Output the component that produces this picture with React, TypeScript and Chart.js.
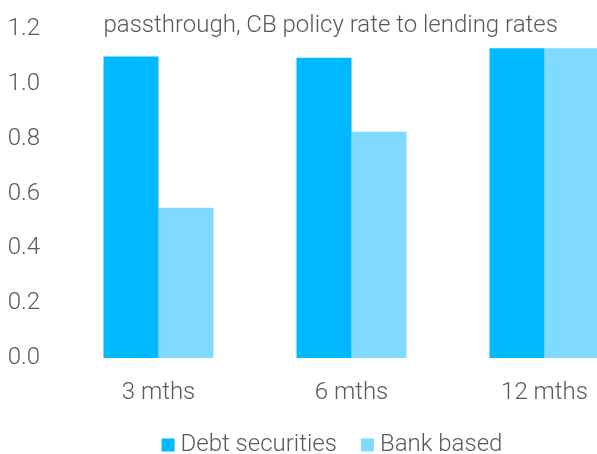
import React, { useEffect, useRef } from 'react';
import { Chart, registerables } from 'chart.js';

Chart.register(...registerables);

const categories = ['3 mths', '6 mths', '12 mths'];
const debtSecurities = [1.1, 1.095, 1.13];
const bankBased = [0.548, 0.825, 1.13];
const yTickValues = [0, 0.2, 0.4, 0.6, 0.8, 1.0, 1.2];
const chartTitle = 'passthrough, CB policy rate to lending rates';

const FONT_FAMILY = 'Roboto';
const FONT_SIZE = 24;
const TEXT_COLOR = '#595959';
const DEBT_COLOR = '#00B9FF';
const BANK_COLOR = '#80DAFF';

const insideTitle = {
  id: 'insideTitle',
  afterDraw(chart: any) {
    const meta = chart.getDatasetMeta(0);
    const bar = meta.data[0];
    if (!bar) return;
    const props = bar.getProps(['x', 'width'], true);
    const ctx = chart.ctx;
    ctx.save();
    ctx.font = `300 ${FONT_SIZE}px ${FONT_FAMILY}`;
    ctx.fillStyle = TEXT_COLOR;
    ctx.textAlign = 'left';
    ctx.textBaseline = 'middle';
    ctx.fillText(chartTitle, props.x - props.width / 2, chart.chartArea.top - 3);
    ctx.restore();
  },
};

const legendTweak = {
  id: 'legendTweak',
  afterInit(chart: any) {
    const legend = chart.legend;
    if (!legend) return;
    const orig = legend.fit.bind(legend);
    legend.fit = function () {
      orig();
      this.height = 51;
    };
  },
  afterLayout(chart: any) {
    const legend = chart.legend;
    if (!legend) return;
    legend.left += 5.5;
    legend.right += 5.5;
  },
};

export default function App() {
  const canvasRef = useRef<HTMLCanvasElement | null>(null);

  useEffect(() => {
    if (!canvasRef.current) return;
    const font = { family: FONT_FAMILY, size: FONT_SIZE, weight: '300' as any };
    const chart = new Chart(canvasRef.current, {
      type: 'bar',
      data: {
        datasets: [
          {
            label: 'Debt securities',
            data: debtSecurities.map((v, i) => ({ x: i, y: v })),
            backgroundColor: DEBT_COLOR,
            borderWidth: 0,
          },
          {
            label: 'Bank based',
            data: bankBased.map((v, i) => ({ x: i, y: v })),
            backgroundColor: BANK_COLOR,
            borderWidth: 0,
          },
        ],
      },
      plugins: [insideTitle, legendTweak],
      options: {
        responsive: false,
        animation: false,
        maintainAspectRatio: false,
        layout: { padding: { top: 29, left: 0, right: 0, bottom: 0 } },
        datasets: {
          bar: { categoryPercentage: 0.57, barPercentage: 1.0 },
        },
        scales: {
          x: {
            type: 'linear',
            offset: false,
            min: -0.5,
            max: 2.272,
            grid: { display: false, drawTicks: false, offset: false },
            border: { display: false },
            afterBuildTicks: (scale: any) => {
              scale.ticks = categories.map((_, i) => ({ value: i }));
            },
            afterFit: (scale: any) => {
              scale.height = 45;
              scale.paddingLeft = 0;
              scale.paddingRight = 0;
            },
            ticks: {
              font,
              color: TEXT_COLOR,
              padding: 21,
              maxRotation: 0,
              autoSkip: false,
              callback: (v: any) => categories[v] ?? '',
            },
          },
          y: {
            min: 0,
            max: 1.2,
            grid: { display: false, drawTicks: false },
            border: { display: false },
            afterBuildTicks: (scale: any) => {
              scale.ticks = yTickValues.map((v) => ({ value: v }));
            },
            afterFit: (scale: any) => {
              scale.width = 62;
              scale.paddingTop = 0;
              scale.paddingBottom = 0;
            },
            ticks: {
              font,
              color: TEXT_COLOR,
              padding: 22,
              callback: (v: any) => Number(v).toFixed(1),
            },
          },
        },
        plugins: {
          title: { display: false },
          tooltip: { enabled: false },
          legend: {
            display: true,
            position: 'bottom',
            fullSize: false,
            labels: {
              font,
              color: TEXT_COLOR,
              usePointStyle: true,
              pointStyle: 'rect',
              boxWidth: 1,
              boxHeight: 13,
              padding: 30,
            },
          },
        },
      },
    });
    return () => chart.destroy();
  }, []);

  return (
    <div style={{ position: 'fixed', left: 0, top: 0, width: 597, height: 454, background: '#fff' }}>
      <canvas ref={canvasRef} width={597} height={454} style={{ width: 597, height: 454 }} />
    </div>
  );
}
